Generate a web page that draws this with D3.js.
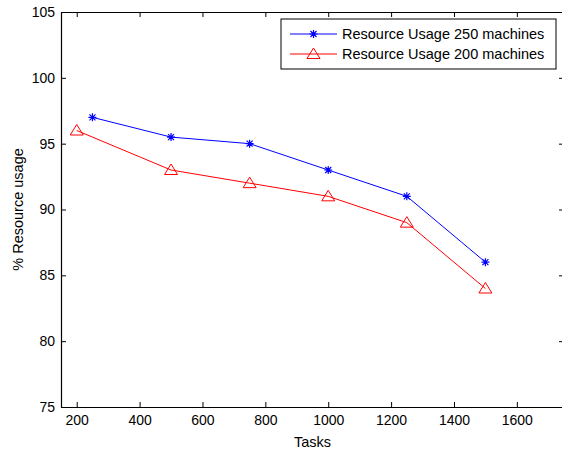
<!DOCTYPE html>
<head>
<meta charset="utf-8">
<script src="https://d3js.org/d3.v7.min.js"></script>
<style>
body { margin:0; background:#fff; }
text { font-family: "Liberation Sans", Arial, sans-serif; }
</style>
</head>
<body>
<div id="chart"></div>
<script>
// data
var tasks250 = [250, 500, 750, 1000, 1250, 1500];
var usage250 = [97, 95.5, 95, 93, 91, 86];
var tasks200 = [200, 500, 750, 1000, 1250, 1500];
var usage200 = [96, 93, 92, 91, 89, 84];
var xTicks = [200, 400, 600, 800, 1000, 1200, 1400, 1600];
var yTicks = [75, 80, 85, 90, 95, 100, 105];
var seriesNames = ["Resource Usage 250 machines", "Resource Usage 200 machines"];

var W = 562, H = 452;
var margin = {top: 12, right: -2, bottom: 45, left: 61},
    width = W - margin.left - margin.right,
    height = H - margin.top - margin.bottom;

var svg = d3.select("#chart").append("svg")
    .attr("width", W).attr("height", H)
  .append("g")
    .attr("transform", "translate(" + margin.left + "," + margin.top + ")");

var x = d3.scaleLinear().domain([150, 1750]).range([0, width]);
var y = d3.scaleLinear().domain([75, 105]).range([height, 0]);

// axes, MATLAB style: ticks inward on all four sides
svg.append("g")
    .attr("transform", "translate(0," + height + ")")
    .call(d3.axisBottom(x).tickValues(xTicks).tickFormat(d3.format("d"))
      .tickSizeInner(-5).tickSizeOuter(0).tickPadding(8));
svg.append("g")
    .call(d3.axisTop(x).tickValues(xTicks).tickSizeInner(-5).tickSizeOuter(0).tickFormat(""));
svg.append("g")
    .call(d3.axisLeft(y).tickValues(yTicks).tickFormat(d3.format("d"))
      .tickSizeInner(-5).tickSizeOuter(0).tickPadding(6));
svg.append("g")
    .attr("transform", "translate(" + width + ",0)")
    .call(d3.axisRight(y).tickValues(yTicks).tickSizeInner(-5).tickSizeOuter(0).tickFormat(""));

svg.selectAll(".domain").attr("stroke", "#000").attr("stroke-width", 1.2);
svg.selectAll(".tick line").attr("stroke", "#000");
svg.selectAll(".tick text").style("font-size", "14px").attr("fill", "#000");

// axis labels
svg.append("text")
    .attr("x", x(950)).attr("y", height + 40)
    .attr("text-anchor", "middle").style("font-size", "14.5px")
    .text("Tasks");
svg.append("text")
    .attr("transform", "translate(" + (-38) + "," + y(90) + ") rotate(-90)")
    .attr("text-anchor", "middle").style("font-size", "14.5px")
    .text("% Resource usage");

var line = d3.line()
    .x(function(d) { return x(d[0]); })
    .y(function(d) { return y(d[1]); });

var d250 = d3.zip(tasks250, usage250);
var d200 = d3.zip(tasks200, usage200);

function star(g, cx, cy, color) {
  var r = 4;
  g.append("path")
    .attr("d", "M" + (cx - r) + "," + cy + "H" + (cx + r) +
               "M" + cx + "," + (cy - r) + "V" + (cy + r) +
               "M" + (cx - r*0.75) + "," + (cy - r*0.75) + "L" + (cx + r*0.75) + "," + (cy + r*0.75) +
               "M" + (cx - r*0.75) + "," + (cy + r*0.75) + "L" + (cx + r*0.75) + "," + (cy - r*0.75))
    .attr("stroke", color).attr("stroke-width", 1.2).attr("fill", "none");
}
function tri(g, cx, cy, color) {
  g.append("path")
    .attr("d", "M" + cx + "," + (cy - 6) + "L" + (cx + 6.5) + "," + (cy + 4.5) + "L" + (cx - 6.5) + "," + (cy + 4.5) + "Z")
    .attr("stroke", color).attr("stroke-width", 1).attr("fill", "none");
}

svg.append("path").datum(d250)
    .attr("fill", "none").attr("stroke", "#0000ff").attr("stroke-width", 1)
    .attr("d", line);
svg.append("path").datum(d200)
    .attr("fill", "none").attr("stroke", "#ff0000").attr("stroke-width", 1)
    .attr("d", line);

d250.forEach(function(d) { star(svg, x(d[0]), y(d[1]), "#0000ff"); });
d200.forEach(function(d) { tri(svg, x(d[0]), y(d[1]), "#ff0000"); });

// legend
var lg = svg.append("g").attr("transform", "translate(220,7)");
lg.append("rect").attr("x", 0).attr("y", 0).attr("width", 275).attr("height", 50)
    .attr("fill", "#fff").attr("stroke", "#000").attr("stroke-width", 1);
var colors = ["#0000ff", "#ff0000"];
seriesNames.forEach(function(name, i) {
  var ly = 15 + i * 20;
  lg.append("line").attr("x1", 9).attr("x2", 56).attr("y1", ly).attr("y2", ly)
    .attr("stroke", colors[i]).attr("stroke-width", 1);
  if (i === 0) star(lg, 32.5, ly, colors[i]); else tri(lg, 32.5, ly, colors[i]);
  lg.append("text").attr("x", 61).attr("y", ly + 5)
    .style("font-size", "14.5px").text(name);
});
</script>
</body>
</html>
